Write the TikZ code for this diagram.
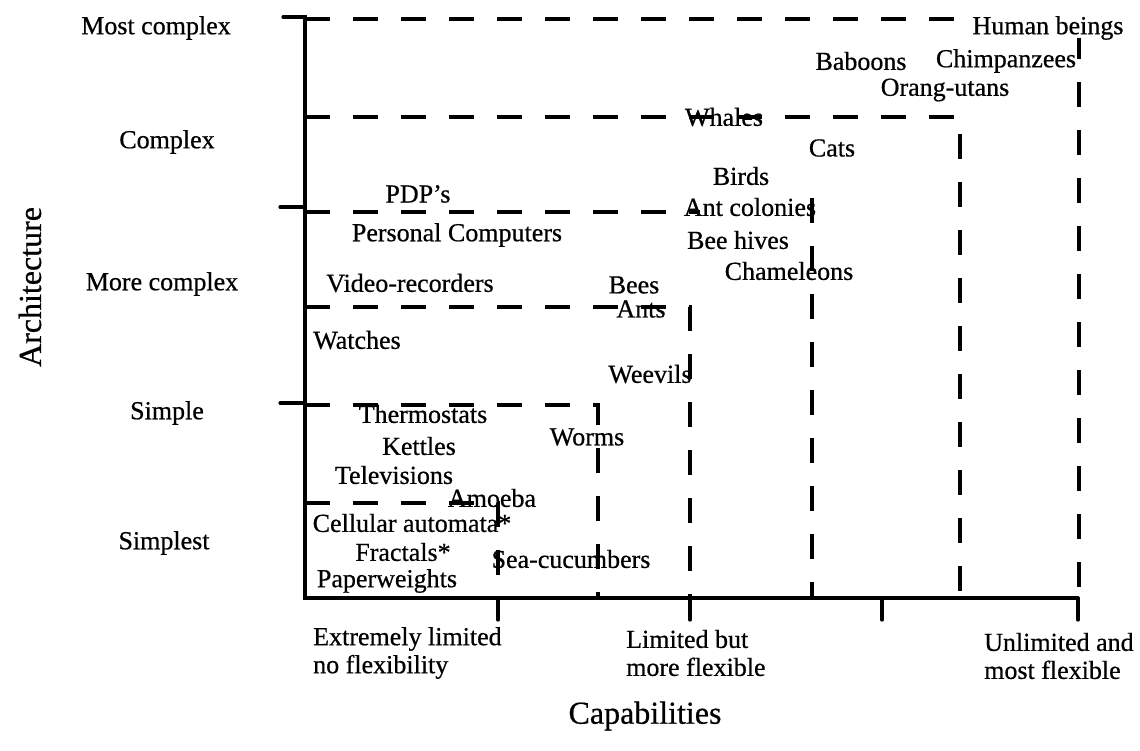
\documentclass[tikz,border=0pt]{standalone}
\usepackage{fontspec}
\setmainfont[FakeBold=0.6]{Liberation Serif}
\begin{document}
\begin{tikzpicture}[x=1pt,y=-1pt,
  axisline/.style={line width=3.2pt,line cap=round},
  band/.style={line width=3.2pt,dash pattern=on 25pt off 23pt},
  lbl/.style={inner sep=0pt,anchor=center,yshift=-3pt,font=\fontsize{26}{28}\selectfont},
  lblw/.style={inner sep=0pt,anchor=west,font=\fontsize{26}{28}\selectfont},
  title/.style={inner sep=0pt,anchor=center,font=\fontsize{32}{34}\selectfont}]
\useasboundingbox (0,0) rectangle (1140,751);

% axes with ticks
\draw[axisline] (283,17) -- (305,17) -- (305,598) -- (1078,598);
\draw[axisline] (280,207) -- (305,207);
\draw[axisline] (280,403) -- (305,403);
\foreach \tx in {498,690,882,1078}
  \draw[axisline] (\tx,598) -- (\tx,620);

% nested capability bands
\draw[band] (305,19) -- (965,19);
\draw[band,dash phase=4pt] (1079,38) -- (1079,598);
\draw[band] (305,117) -- (960,117) -- (960,598);
\draw[band] (305,212) -- (700,212);
\draw[band] (812,198) -- (812,598);
\draw[band] (305,307) -- (690,307) -- (690,598);
\draw[band] (305,405) -- (598,405) -- (598,598);
\draw[band] (305,503) -- (498,503) -- (498,598);

% architecture levels
\node[lbl] (lv5) at (156,25) {Most complex};
\node[lbl] (lv4) at (167,139) {Complex};
\node[lbl] (lv3) at (162,281) {More complex};
\node[lbl] (lv2) at (167,410) {Simple};
\node[lbl] (lv1) at (164,540) {Simplest};

% capability levels
\node[lblw,align=left] (cap1) at (313,653) {Extremely limited\\no flexibility};
\node[lblw,align=left] (cap2) at (626,653) {Limited but\\more flexible};
\node[lblw,align=left] (cap3) at (984,656) {Unlimited and\\most flexible};

% axis titles
\node[title,rotate=90] (ytitle) at (30,287) {Architecture};
\node[title] (xtitle) at (645,716) {Capabilities};

% systems
\node[lbl] (human) at (1048,25) {Human beings};
\node[lbl] (baboons) at (861,58) {Baboons};
\node[lbl] (chimps) at (1006,58) {Chimpanzees};
\node[lbl] (orang) at (945,87) {Orang-utans};
\node[lbl] (whales) at (724,114) {Whales};
\node[lbl] (cats) at (832,145) {Cats};
\node[lbl] (birds) at (741,173) {Birds};
\node[lbl] (antcol) at (750,204) {Ant colonies};
\node[lbl] (beehives) at (738,237) {Bee hives};
\node[lbl] (chamel) at (789,268) {Chameleons};
\node[lbl] (pdp) at (418,191) {PDP's};
\node[lbl] (pc) at (457,232) {Personal Computers};
\node[lbl] (video) at (410,280) {Video-recorders};
\node[lbl] (bees) at (634,282) {Bees};
\node[lbl] (ants) at (641,306) {Ants};
\node[lbl] (watches) at (357,337) {Watches};
\node[lbl] (weevils) at (650,371) {Weevils};
\node[lbl] (thermo) at (423,411) {Thermostats};
\node[lbl] (kettles) at (419,443) {Kettles};
\node[lbl] (worms) at (587,434) {Worms};
\node[lbl] (tv) at (394,472) {Televisions};
\node[lbl] (amoeba) at (492,495) {Amoeba};
\node[lbl] (cellular) at (412,520) {Cellular automata*};
\node[lbl] (fractals) at (403,549) {Fractals*};
\node[lbl] (seacuc) at (571,556) {Sea-cucumbers};
\node[lbl] (paper) at (387,578) {Paperweights};
\end{tikzpicture}
\end{document}
